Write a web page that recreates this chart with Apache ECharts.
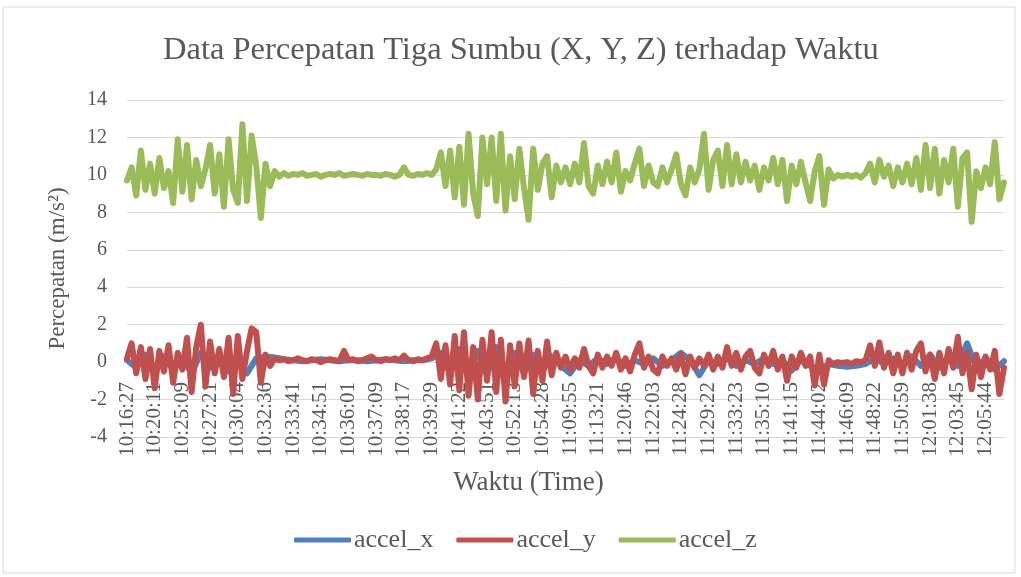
<!DOCTYPE html>
<html>
<head>
<meta charset="utf-8">
<script src="https://cdn.jsdelivr.net/npm/echarts@6/dist/echarts.min.js"></script>
<style>
  html, body { margin: 0; padding: 0; background: #fff; }
  #chart { width: 1021px; height: 577px; }
</style>
</head>
<body>
<div id="chart"></div>
<script>
  // time labels shown under the axis, one every STEP samples
  const tickLabels = ['10:16:27', '10:20:11', '10:25:09', '10:27:21', '10:30:04', '10:32:36', '10:33:41', '10:34:51',
    '10:36:01', '10:37:09', '10:38:17', '10:39:29', '10:41:22', '10:43:51', '10:52:13', '10:54:28',
    '11:09:55', '11:13:21', '11:20:46', '11:22:03', '11:24:28', '11:29:22', '11:33:23', '11:35:10',
    '11:41:15', '11:44:02', '11:46:09', '11:48:22', '11:50:59', '12:01:38', '12:03:45', '12:05:44'];
  const STEP = 6;

  // accel_z, one value per sample
  const accelZ = [
    9.7, 10.4, 8.9, 11.3, 9.2, 10.6, 9.0, 10.9, 9.3, 10.2, 8.5, 11.9, 9.1, 11.6, 8.7, 10.8, 9.4, 10.3, 11.6, 9.0,
    11.1, 8.3, 11.9, 9.2, 8.5, 12.7, 8.6, 12.1, 10.5, 7.7, 10.6, 9.4, 10.2, 9.9, 10.1,
    9.95, 10.05, 10.0, 10.1, 9.95, 10.0, 10.05, 9.9, 10.0, 10.05, 10.0, 10.1, 9.95, 10.0, 10.05, 10.0, 9.95, 10.05, 10.0, 10.0,
    9.95, 10.05, 10.0, 9.9, 10.0, 10.4, 10.0, 9.95, 10.05, 10.0, 10.1, 10.0,
    10.3, 11.2, 9.4, 11.3, 8.8, 11.5, 8.4, 12.2, 9.0, 7.8, 12.0, 9.5, 12.0, 8.6, 12.2, 8.1, 11.0, 8.7, 11.4, 9.3,
    7.6, 11.4, 9.2, 10.6, 11.0, 8.8, 10.5, 9.6,
    10.4, 9.5, 10.6, 9.6, 11.7, 9.4, 9.0, 10.5, 9.5, 10.7, 9.6, 11.2, 9.1, 10.2, 9.7, 10.6, 11.4, 9.4, 10.5, 9.6,
    9.4, 10.4, 9.6, 10.3, 11.1, 9.5, 8.9, 10.4, 9.6, 10.3, 12.2, 9.2, 10.8, 11.3, 9.4, 11.6, 9.5, 11.1, 9.6, 10.7,
    9.7, 10.5, 9.2, 10.4, 9.7, 10.9, 9.5, 10.8, 8.6, 10.5, 9.5, 10.7, 9.6, 8.6, 10.2, 11.0, 8.4, 10.3, 9.8, 10.0,
    9.9, 10.0, 9.9, 10.0, 9.85, 10.1, 10.6, 9.6, 10.8, 9.9, 10.5, 9.4, 10.4, 9.6, 10.6, 9.5, 10.9, 9.2, 11.6, 9.3,
    11.4, 9.0, 10.8, 9.6, 11.4, 8.3, 10.9, 11.2, 7.5, 10.2, 9.3, 10.4, 9.5, 11.75, 8.7, 9.6
  ];

  // accel_y, one value per sample
  const accelY = [
    0.2, 1.0, -0.6, 0.8, -0.9, 0.7, -1.4, 0.6, -0.5, 0.9, -1.1, 0.5, -0.4, 1.3, -1.6, 0.8, 2.0, -1.3, 1.1, -0.6,
    0.7, -0.8, 1.3, -1.7, 1.4, -0.9, 0.6, 1.8, 1.6, -1.1, 0.4, -0.2, 0.2,
    0.1, 0.15, 0.05, 0.1, 0.2, 0.1, 0.05, 0.15, 0.1, 0.0, 0.1, 0.15, 0.1, 0.05, 0.6, 0.1, 0.15, 0.05, 0.1, 0.2,
    0.3, 0.1, 0.05, 0.15, 0.1, 0.2, 0.1, 0.35, 0.1, 0.05, 0.15, 0.1, 0.2, 0.3,
    1.0, -0.9, 0.9, -1.2, 1.4, -1.5, 1.6, -1.8, 0.8, -2.0, 1.2, -1.0, 1.6, -1.6, 1.2, -2.1, 0.9, -1.3, 1.0, -0.8,
    1.15, -1.7, 0.6, -1.0, 1.1, -0.7, 0.5, -0.3,
    0.3, -0.4, 0.2, -0.3, 0.7, -0.2, -0.6, 0.4, -0.3, 0.3, -0.2, 0.5, -0.4, 0.2, -0.5, 0.4, 1.0, -0.3, 0.3, -0.4,
    -0.6, 0.3, -0.2, 0.2, -0.4, 0.4, -0.65, 0.3, -0.3, 0.2, -0.2, 0.4, -0.4, 0.3, -0.3, 0.8, -0.2, 0.5, -0.4, 0.3,
    0.6, -0.3, -0.6, 0.4, -0.2, 0.6, -0.4, 0.3, -1.0, 0.3, -0.3, 0.5, -0.2, 0.3, -1.25, 0.4, -1.2, 0.1, -0.1, 0.0,
    -0.05, 0.0, -0.1, 0.05, 0.0, 0.1, 0.9, -0.2, 1.05, -0.3, 0.5, -0.6, 0.4, -0.6, 0.5, -0.4, 0.6, 1.0, -0.5, 0.4,
    -0.9, 0.5, -0.6, 0.7, -0.3, 1.35, -0.6, 0.5, -1.45, 0.4, -0.8, 0.3, -0.4, 0.6, -1.7, -0.3
  ];

  // accel_x, read every second sample (mostly hidden under accel_y)
  const accelX = [
    0.1, -0.3, 0.4, -0.5, 0.3, -0.4, 0.2, -0.6, 0.5, -0.3, 0.4, -0.5, 0.3, -0.6, 0.2, 0.3, 0.25, 0.15,
    0.1, 0.05, 0.1, 0.15, 0.1, 0.05, 0.1, 0.1, 0.05, 0.1, 0.15, 0.1, 0.05, 0.1, 0.1,
    0.2, 0.5, -0.6, 0.7, -0.8, 0.6, -0.7, 0.8, -0.9, 0.5, -0.6, 0.4, -0.5, 0.3, -0.2, -0.6, 0.1, -0.2, 0.2, -0.1,
    0.2, -0.2, 0.1, -0.1, 0.2, -0.2, 0.1, 0.5, 0.1, -0.7, 0.1, -0.1, 0.2, -0.2, 0.1, -0.1, 0.2, -0.1, 0.1, -0.45,
    0.1, -0.2, -0.45, -0.1, -0.2, -0.25, -0.2, -0.1, 0.2, -0.1, 0.2, -0.2, 0.3, -0.2, 0.4, -0.3, 0.3, -0.2, 1.0, -0.3,
    0.2, -0.4, 0.05
  ];
  const X_EVERY = 2;

  const textColor = '#595959';
  const font = '"Liberation Serif", "DejaVu Serif", serif';

  const chart = echarts.init(document.getElementById('chart'));

  const lineSeries = (name, color, points) => ({
    name,
    type: 'line',
    data: points,
    showSymbol: false,
    symbol: 'none',
    animation: false,
    lineStyle: { color, width: 6, join: 'round', cap: 'round' },
    itemStyle: { color },
    emphasis: { disabled: true }
  });

  chart.setOption({
    backgroundColor: '#fff',
    animation: false,
    title: {
      text: 'Data Percepatan Tiga Sumbu (X, Y, Z) terhadap Waktu',
      left: 158,
      top: 29,
      textStyle: { fontFamily: font, fontSize: 32.5, fontWeight: 'normal', color: textColor }
    },
    legend: {
      bottom: 19,
      left: 289,
      icon: 'roundRect',
      itemWidth: 57,
      itemHeight: 5,
      itemGap: 23,
      textStyle: { fontFamily: font, fontSize: 26, color: textColor, padding: [0, 0, 0, -2] },
      data: ['accel_x', 'accel_y', 'accel_z']
    },
    graphic: [{
      type: 'rect',
      shape: { x: 3, y: 7, width: 1012, height: 566 },
      style: { fill: 'none', stroke: '#d9d9d9', lineWidth: 1 },
      silent: true
    }],
    grid: { left: 127, right: 17, top: 100, bottom: 140 },
    xAxis: {
      type: 'value',
      min: 0,
      max: (tickLabels.length - 1) * STEP + 4,
      interval: STEP,
      name: 'Waktu (Time)',
      nameLocation: 'middle',
      nameGap: 32,
      nameMoveOverlap: false,
      nameTextStyle: { fontFamily: font, fontSize: 27, color: textColor, padding: [0, 74, 0, 0] },
      axisLine: { show: true, onZero: false, lineStyle: { color: '#d9d9d9' } },
      axisTick: { show: false },
      splitLine: { show: false },
      // labels hang from the zero line, as in the source chart
      axisLabel: {
        rotate: 90,
        margin: -55,
        fontFamily: font,
        fontSize: 21,
        color: textColor,
        showMaxLabel: false,
        formatter: v => (v % STEP === 0 && tickLabels[v / STEP]) || ''
      }
    },
    yAxis: {
      type: 'value',
      min: -4,
      max: 14,
      interval: 2,
      name: 'Percepatan (m/s²)',
      nameLocation: 'middle',
      nameGap: 58,
      nameMoveOverlap: false,
      nameTextStyle: { fontFamily: font, fontSize: 23, color: textColor },
      axisLine: { show: false, onZero: false },
      axisTick: { show: false },
      splitLine: { lineStyle: { color: '#d9d9d9', width: 1 } },
      axisLabel: { margin: 20, fontFamily: font, fontSize: 20, color: textColor }
    },
    series: [
      lineSeries('accel_x', '#4F81BD', accelX.map((v, j) => [j * X_EVERY, v])),
      lineSeries('accel_y', '#C0504D', accelY.map((v, i) => [i, v])),
      lineSeries('accel_z', '#9BBB59', accelZ.map((v, i) => [i, v]))
    ]
  });
</script>
</body>
</html>
